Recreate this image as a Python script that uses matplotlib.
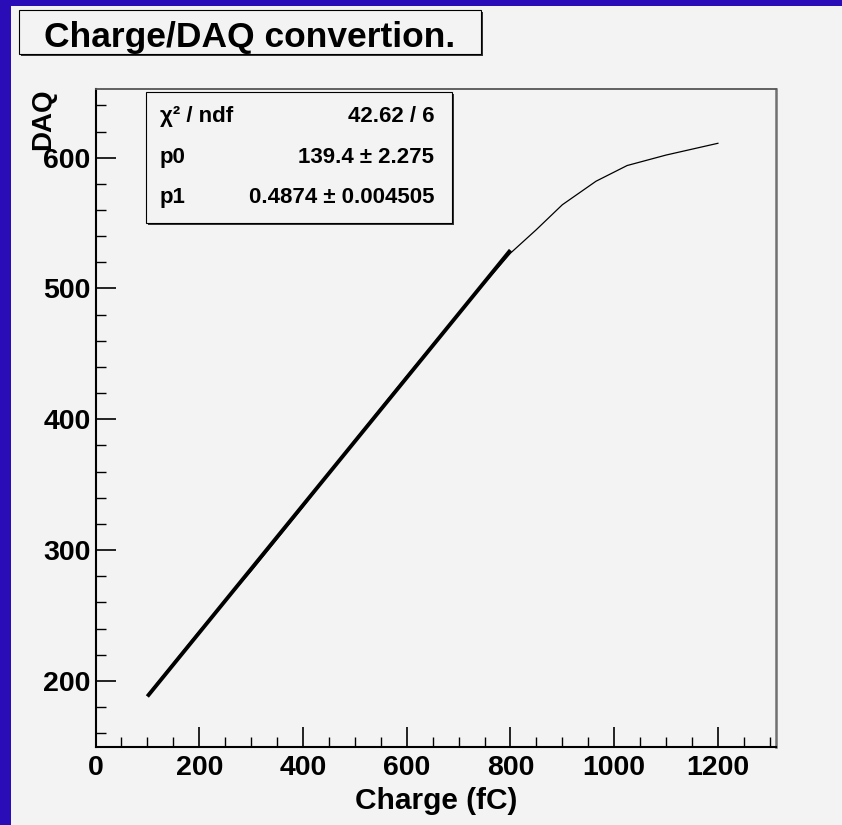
import numpy as np
import matplotlib.pyplot as plt
from matplotlib.patches import Rectangle
from matplotlib.ticker import MultipleLocator

# measured points: charge injected (fC) vs DAQ reading
charge = [100, 200, 300, 400, 500, 600, 700, 800, 850, 900, 965, 1025, 1100, 1200]
daq = [189, 238, 284, 333, 384, 433, 481, 527, 545, 564, 582, 594, 602, 611]

# linear fit pol1 over the linear region
fit_range = [100, 800]
p0, p0_err = 139.4, 2.275
p1, p1_err = 0.4874, 0.004505
chi2, ndf = 42.62, 6

plt.rcParams['font.family'] = ['Liberation Sans', 'DejaVu Sans']
plt.rcParams['font.weight'] = 'bold'

W, H = 842, 825
BG = '#f3f3f3'


def fx(px):
    return px / W


def fy(py):
    return 1 - py / H


fig = plt.figure(figsize=(W / 100, H / 100), dpi=100, facecolor='#2b0db8')
fig.patches.append(Rectangle((fx(11), 0), 1 - fx(11), fy(6), transform=fig.transFigure,
                             facecolor=BG, edgecolor='none', zorder=-1))

ax = fig.add_axes([fx(95.5), fy(747), (776 - 95.5) / W, (747 - 89) / H])
ax.set_facecolor(BG)

ax.plot(charge, daq, color='black', lw=0.9)
xf = np.array(fit_range)
ax.plot(xf, p0 + p1 * xf, color='black', lw=2.8, solid_capstyle='butt')

ax.set_xlim(0, 1312)
ax.set_ylim(149.5, 652.5)
ax.xaxis.set_major_locator(MultipleLocator(200))
ax.xaxis.set_minor_locator(MultipleLocator(50))
ax.yaxis.set_major_locator(MultipleLocator(100))
ax.yaxis.set_minor_locator(MultipleLocator(20))
ax.tick_params(which='both', direction='in', top=False, right=False, labelsize=20.5)
ax.tick_params(which='major', length=14.4, width=1.2)
ax.tick_params(which='minor', length=7.2, width=1.0)
ax.tick_params(axis='x', pad=5.5)
ax.tick_params(axis='y', pad=3.6)

ax.spines['left'].set_linewidth(1.5)
ax.spines['bottom'].set_linewidth(1.5)
ax.spines['top'].set_linewidth(1.3)
ax.spines['top'].set_color('#555555')
ax.spines['right'].set_linewidth(1.8)
ax.spines['right'].set_color('#707070')

ax.set_xlabel('Charge (fC)', fontsize=21.5, fontweight='bold')
ax.xaxis.set_label_coords(0.5, (747 - 787) / 658)
ax.set_ylabel('DAQ', fontsize=20, fontweight='bold', loc='top')
ax.yaxis.set_label_coords((56 - 95.5) / 680.5, 1.0)


def pave(x0, y0, x1, y1):
    # box with a small drop shadow, pixel coords from the top-left
    fig.patches.append(Rectangle((fx(x0 + 2), fy(y1 + 2)), (x1 - x0) / W, (y1 - y0) / H,
                                 transform=fig.transFigure, facecolor='#333333',
                                 edgecolor='none', zorder=4))
    fig.patches.append(Rectangle((fx(x0), fy(y1)), (x1 - x0) / W, (y1 - y0) / H,
                                 transform=fig.transFigure, facecolor=BG,
                                 edgecolor='black', lw=0.8, zorder=5))


# title
pave(19, 10, 481, 54)
fig.text(fx(250), fy(47), 'Charge/DAQ convertion.', ha='center', va='baseline',
         fontsize=25.5, zorder=6)

# fit statistics
pave(146, 92, 452, 223)
rows = [
    ('χ² / ndf', f'{chi2:.2f} / {ndf}', 121.7),
    ('p0', f'{p0} ± {p0_err}', 163.3),
    ('p1', f'{p1} ± {p1_err}', 203.3),
]
for name, val, yb in rows:
    fig.text(fx(160), fy(yb), name, ha='left', va='baseline', fontsize=16, zorder=6)
    fig.text(fx(434), fy(yb), val, ha='right', va='baseline', fontsize=16, zorder=6)

fig.savefig('out.png', dpi=100, facecolor=fig.get_facecolor())
